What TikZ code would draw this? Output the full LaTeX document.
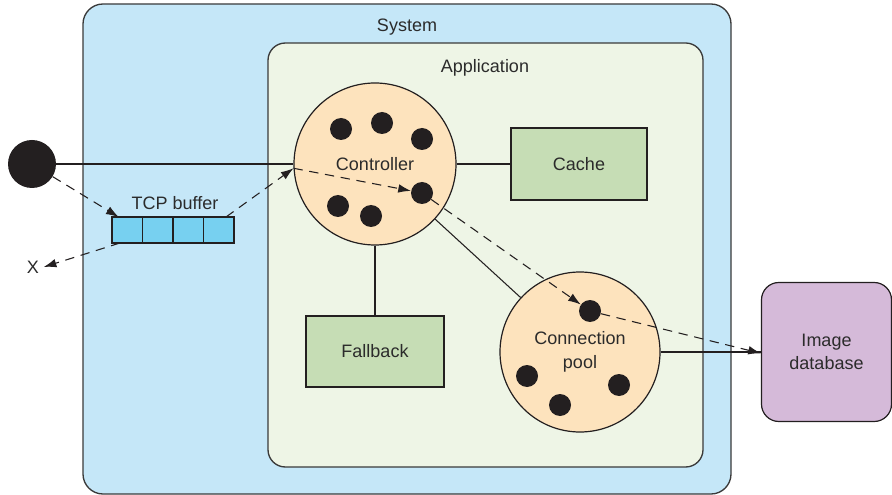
\documentclass[tikz,border=0pt]{standalone}
\usepackage{fontspec}
\setmainfont{Liberation Sans}
\usetikzlibrary{arrows.meta}

\definecolor{sysfill}{HTML}{C5E7F8}
\definecolor{appfill}{HTML}{EEF5E6}
\definecolor{peach}{HTML}{FDE3BD}
\definecolor{sage}{HTML}{C6DDB5}
\definecolor{lilac}{HTML}{D5BAD9}
\definecolor{cellblue}{HTML}{77D0F0}
\definecolor{ink}{HTML}{231F20}
\definecolor{edge}{HTML}{3A3A3A}
\definecolor{label}{HTML}{2B2B2B}

\tikzset{
  frame/.style={draw=edge, line width=1pt},
  worker/.style={circle, fill=ink, minimum size=16.5pt, inner sep=0pt},
  pool/.style={circle, draw=ink, fill=peach, line width=0.9pt, inner sep=0pt, align=center},
  block/.style={draw=ink, fill=sage, line width=0.9pt, inner sep=0pt, align=center},
  cell/.style={draw=ink, fill=cellblue, line width=0.8pt, minimum width=22.9pt,
               minimum height=19.5pt, inner sep=0pt, outer sep=0pt},
  link/.style={draw=ink, line width=0.8pt},
  flow/.style={draw=ink, line width=0.8pt, dash pattern=on 7pt off 5pt,
               -{Latex[length=9.5pt,width=6.5pt]}},
}

\begin{document}
\begin{tikzpicture}[x=0.75pt, y=-0.75pt, font=\fontsize{13.5}{17.5}\selectfont, text=label]
  \useasboundingbox (0,0) rectangle (892,495);

  % containers
  \path[frame, fill=sysfill, rounded corners=15pt] (83,4) rectangle (731,494);
  \node (systitle) at (407,27) {System};
  \path[frame, fill=appfill, rounded corners=13pt] (268,43) rectangle (703,467);
  \node (apptitle) at (485,68) {Application};

  % client
  \node[circle, fill=ink, minimum size=36pt, inner sep=0pt] (client) at (32,164) {};

  % TCP buffer cells
  \node[cell] (b1) at (127.25,230) {};
  \node[cell] (b2) at (157.75,230) {};
  \node[cell] (b3) at (188.25,230) {};
  \node[cell] (b4) at (218.75,230) {};
  \node (buflabel) at (175,203) {TCP buffer};
  \node (drop) at (33,267) {X};

  % controller with its worker threads
  \node[pool, minimum size=121.5pt] (ctrl) at (375,164) {Controller};
  \node[worker] (c1) at (341,129) {};
  \node[worker] (c2) at (382,123) {};
  \node[worker] (c3) at (422,139) {};
  \node[worker] (c4) at (422,193) {};
  \node[worker] (c5) at (338,206) {};
  \node[worker] (c6) at (371,216) {};

  % helpers
  \node[block, minimum width=102pt, minimum height=54pt] (cache) at (579,164) {Cache};
  \node[block, minimum width=103.5pt, minimum height=53.25pt] (fallback) at (375,351.5) {Fallback};

  % connection pool
  \node[pool, minimum size=120pt] (connpool) at (580,352) {Connection\\pool};
  \node[worker] (p1) at (590,311) {};
  \node[worker] (p2) at (527,376) {};
  \node[worker] (p3) at (560,405) {};
  \node[worker] (p4) at (619,385) {};

  % database
  \node[draw=ink, fill=lilac, line width=0.9pt, rounded corners=13pt,
        minimum width=97.5pt, minimum height=104.25pt, inner sep=0pt, align=center]
        (db) at (826.5,352) {Image\\database};

  % structural links
  \draw[link] (client) -- (ctrl);
  \draw[link] (ctrl) -- (cache);
  \draw[link] (ctrl) -- (fallback);
  \draw[link] (ctrl) -- (connpool);
  \draw[link] (connpool) -- (db);

  % request flow
  \draw[flow] (client) -- ([xshift=5pt]b1.north west);
  \draw[flow] ([xshift=-6pt]b4.north east) -- (ctrl.183);
  \draw[flow] ([xshift=6pt]b1.south west) -- (drop.east);
  \draw[flow] (ctrl.183) -- (c4);
  \draw[flow] (c4) -- (p1);
  \draw[flow] (p1) -- ([yshift=-1pt]db.west);
\end{tikzpicture}
\end{document}
